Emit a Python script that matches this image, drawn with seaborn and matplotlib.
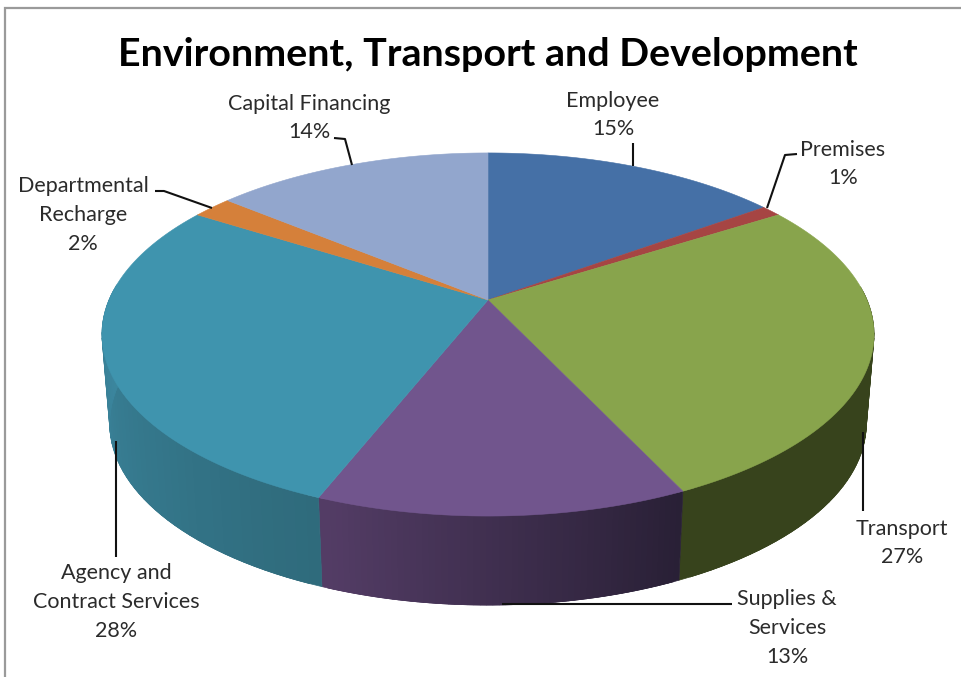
import numpy as np
import matplotlib
matplotlib.use("Agg")
import matplotlib.pyplot as plt
import seaborn as sns

# chart data
title = "Environment, Transport and Development"
categories = ["Employee", "Premises", "Transport", "Supplies &\nServices",
              "Agency and\nContract Services", "Departmental\nRecharge", "Capital Financing"]
shares = [15, 1, 27, 13, 28, 2, 14]
top_colors = ["#4570a6", "#a64543", "#88a44c", "#71558d", "#3f94ae", "#d5803a", "#92a6cd"]
wall_left = ["#2f4a6e", "#6e2e2c", "#37431c", "#533c65", "#3c879f", "#8d5526", "#616e88"]
wall_right = ["#2f4a6e", "#6e2e2c", "#37431c", "#292036", "#2f6b7c", "#8d5526", "#616e88"]

# label placement in pixels: centre x, centre y of the block
label_pos = [(613, 115), (843, 164), (902, 543), (787, 628), (116, 602), (83, 215), (309, 118)]
# leader lines in pixels
leaders = [
    [(633, 143), (633, 166)],
    [(767, 208), (785, 155), (797, 154)],
    [(863, 432), (863, 511)],
    [(502, 604), (732, 604)],
    [(116, 441), (116, 557)],
    [(212, 208), (164, 191), (155, 191)],
    [(352, 165), (345, 139), (334, 138)],
]

# pie geometry (pixels)
CX, CY = 488, 300
A, B, K = 379, 175, 0.19
DEPTH, SHRINK = 89, 0.98


def project(theta, base=False):
    # theta is clockwise from 12 o'clock, perspective onto the tilted disc
    x = np.sin(theta)
    y = -np.cos(theta)
    w = 1 - K * y
    px, py = A * x / w, B * y / w
    if base:
        return CX + SHRINK * px, CY + py + DEPTH
    return CX + px, CY + py


sns.set_theme(style="white")
plt.rcParams["font.family"] = ["Lato", "DejaVu Sans"]

fig = plt.figure(figsize=(9.62, 6.77), dpi=100)
ax = fig.add_axes([0, 0, 1, 1])
ax.set_xlim(0, 962)
ax.set_ylim(677, 0)
ax.axis("off")

# chart frame, only top and left show in the crop
ax.plot([5, 5, 962], [677, 8, 8], color="#9a9a9a", lw=1.6, solid_joinstyle="miter")

edges = np.cumsum([0] + shares) / sum(shares) * 2 * np.pi

# side wall, only the front of the disc shows
for i in range(len(shares)):
    t = np.linspace(edges[i], edges[i + 1], 60)
    t = t[-np.cos(t) > -0.1]
    if len(t) < 3:
        continue
    strips = sns.blend_palette([wall_right[i], wall_left[i]], len(t) - 2)
    for j, c in enumerate(strips):
        # strips overlap by one step so no seams show
        xt, yt = project(t[j:j + 3])
        xb, yb = project(t[j:j + 3], base=True)
        ax.fill(np.r_[xt, xb[::-1]], np.r_[yt, yb[::-1]], color=c, lw=0.5, zorder=2)

# top face
for i, c in enumerate(top_colors):
    t = np.linspace(edges[i], edges[i + 1], 80)
    xs, ys = project(t)
    ax.fill(np.r_[CX, xs], np.r_[CY, ys], color=c, lw=0.4, zorder=3)

for line in leaders:
    xs, ys = zip(*line)
    ax.plot(xs, ys, color="#111111", lw=1.5, zorder=4, solid_capstyle="butt")

for name, val, (lx, ly) in zip(categories, shares, label_pos):
    ax.text(lx, ly, f"{name}\n{val}%", ha="center", va="center", fontsize=15.5,
            color="#2b2b2b", linespacing=1.55, zorder=5)

ax.text(488, 55, title, ha="center", va="center", fontsize=28.4, fontweight="bold", color="black")

fig.savefig("out.png", dpi=100)
